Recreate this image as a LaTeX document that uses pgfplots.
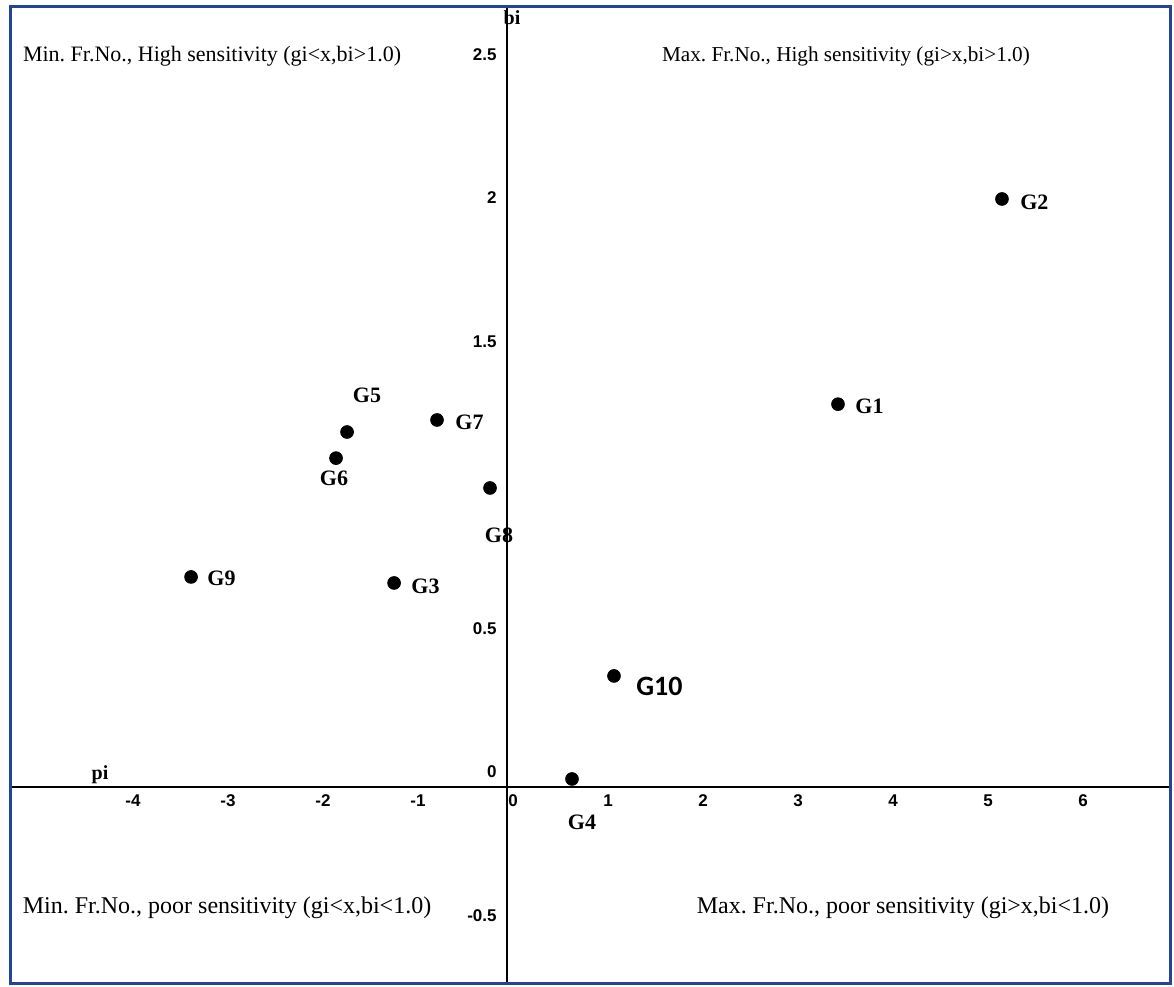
\documentclass[border=0pt]{standalone}
\usepackage{pgfplots}
\pgfplotsset{compat=1.18}
\usepackage{fontspec}
\setmainfont{Liberation Serif}
\setsansfont{Liberation Sans}
\newfontfamily\calib{Carlito}
\definecolor{framecol}{RGB}{38,68,150}
\frenchspacing

\pgfplotsset{
  geno/.style n args={3}{only marks, mark=*, mark size=3.2pt, black,
    nodes near coords, point meta=explicit symbolic,
    every node near coord/.append style={anchor=#1, xshift=#2, yshift=#3,
       inner sep=0pt, black, font=\rmfamily\bfseries\fontsize{11}{12}\selectfont}},
}

\begin{document}
\begin{tikzpicture}
\begin{axis}[
  scale only axis,
  width=580pt, height=488pt,
  xmin=-5.232, xmax=6.979,
  ymin=-0.683, ymax=2.718,
  axis lines=middle,
  axis line style={-, line width=0.8pt, black},
  every inner x axis line/.append style={-},
  every inner y axis line/.append style={-},
  clip=false,
  hide obscured x ticks=false,
  hide obscured y ticks=false,
  major tick length=0pt,
  xtick={-4,-3,-2,-1,0,1,2,3,4,5,6},
  xticklabels={-4,-3,-2,-1,0,1,2,3,4,5,6},
  ytick={-0.5,0,0.5,1.5,2,2.5},
  yticklabels={-0.5,0,0.5,1.5,2,2.5},
  tick label style={font=\sffamily\bfseries\fontsize{8.5}{9}\selectfont},
  xticklabel style={inner sep=0pt, anchor=north, yshift=-3.5pt, xshift=3pt},
  yticklabel style={inner sep=0pt, anchor=east, xshift=-5pt, yshift=7.5pt},
  xlabel={\textbf{pi}},
  ylabel={\textbf{bi}},
  label style={font=\rmfamily\bfseries\fontsize{9}{10}\selectfont},
  every axis x label/.style={at={(axis description cs:0.0776,0.213)}, anchor=center},
  every axis y label/.style={at={(axis description cs:0.4328,0.9887)}, anchor=center},
]
\draw[framecol, line width=1.5pt] (rel axis cs:0,0) rectangle (rel axis cs:1,1);

\addplot[geno={west}{9pt}{-1.5pt}]   coordinates {(5.21,2.049) [G2]};
\addplot[geno={west}{8.5pt}{-1pt}]   coordinates {(3.484,1.334) [G1]};
\addplot[geno={west}{9pt}{-1pt}]     coordinates {(-0.737,1.279) [G7]};
\addplot[geno={center}{10pt}{18.5pt}] coordinates {(-1.684,1.237) [G5]};
\addplot[geno={center}{-1pt}{-10pt}] coordinates {(-1.80,1.146) [G6]};
\addplot[geno={center}{4.5pt}{-23.5pt}] coordinates {(-0.179,1.042) [G8]};
\addplot[geno={west}{8pt}{-0.5pt}]   coordinates {(-3.326,0.732) [G9]};
\addplot[geno={west}{8.5pt}{-1.5pt}] coordinates {(-1.189,0.711) [G3]};
\addplot[geno={center}{5pt}{-21.5pt}] coordinates {(0.684,0.028) [G4]};
\addplot[geno={west}{11pt}{-5pt}, every node near coord/.append style={font=\calib\bfseries\fontsize{14}{16}\selectfont}]
  coordinates {(1.126,0.387) [G10]};

\node[font=\rmfamily\fontsize{11}{12}\selectfont] at (axis cs:-3.105,2.547) {Min. Fr.No., High sensitivity (gi{\textless}x,bi{\textgreater}1.0)};
\node[font=\rmfamily\fontsize{10.6}{12}\selectfont] at (axis cs:3.568,2.547) {Max. Fr.No., High sensitivity (gi{\textgreater}x,bi{\textgreater}1.0)};
\node[font=\rmfamily\fontsize{12}{13}\selectfont] at (axis cs:-2.947,-0.422) {Min. Fr.No., poor sensitivity (gi{\textless}x,bi{\textless}1.0)};
\node[font=\rmfamily\fontsize{12}{13}\selectfont] at (axis cs:4.168,-0.422) {Max. Fr.No., poor sensitivity (gi{\textgreater}x,bi{\textless}1.0)};
\end{axis}
\pgfresetboundingbox
\path ([shift={(-5pt,-1.5pt)}]current axis.south west) rectangle ([shift={(2pt,3.5pt)}]current axis.north east);
\end{tikzpicture}
\end{document}
